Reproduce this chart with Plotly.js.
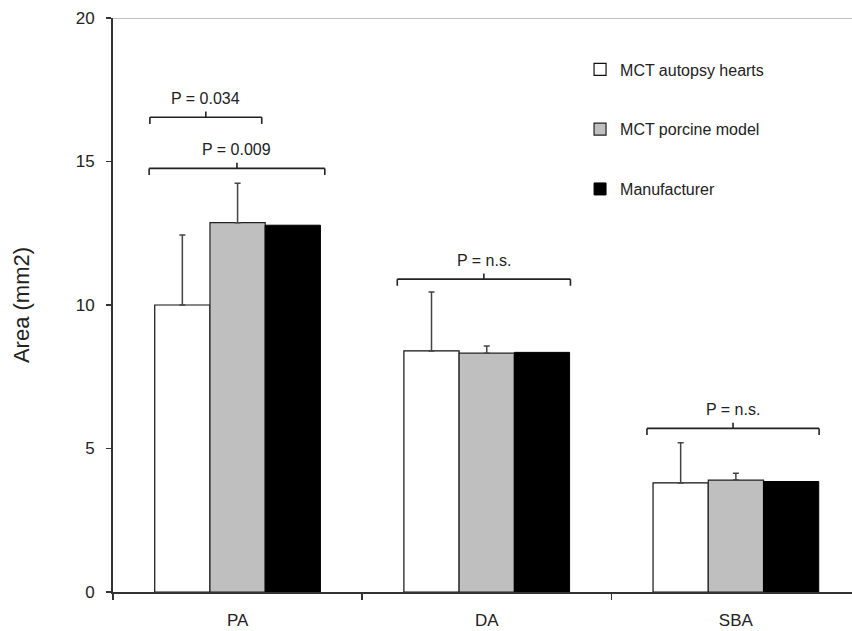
<!DOCTYPE html>
<html>
<head>
<meta charset="utf-8">
<script src="https://cdn.plot.ly/plotly-3.0.1.min.js"></script>
<style>html,body{margin:0;padding:0;background:#fff;}#chart{width:852px;height:631px;}</style>
</head>
<body>
<div id="chart"></div>
<script>
var categories = ["PA", "DA", "SBA"];
var seriesNames = ["MCT autopsy hearts", "MCT porcine model", "Manufacturer"];
var autopsyMean = [10.0, 8.4, 3.8];
var autopsyErr = [2.44, 2.05, 1.4];
var porcineMean = [12.87, 8.32, 3.9];
var porcineErr = [1.37, 0.25, 0.24];
var manufacturerMean = [12.78, 8.35, 3.85];
var yTicks = [0, 5, 10, 15, 20];
// brackets: [x0 index, x1 index, y level, label]
var bracketX0 = [-0.352, -0.355, 0.641, 1.643];
var bracketX1 = [0.097, 0.35, 1.336, 2.334];
var bracketY = [16.54, 14.76, 10.9, 5.70];
var bracketLabels = ["P = 0.034", "P = 0.009", "P = n.s.", "P = n.s."];

var font = "Liberation Sans, Arial, sans-serif";

var traces = [
  {type: "bar", name: seriesNames[0], x: categories, y: autopsyMean, legendgroup: "a",
   marker: {color: "#ffffff", line: {color: "#111", width: 1.2}},
   error_y: {type: "data", symmetric: false, array: autopsyErr, arrayminus: [0,0,0], color: "#444", thickness: 1.5, width: 3}},
  {type: "bar", name: seriesNames[1], x: categories, y: porcineMean, legendgroup: "b",
   marker: {color: "#bfbfbf", line: {color: "#222", width: 1.2}},
   error_y: {type: "data", symmetric: false, array: porcineErr, arrayminus: [0,0,0], color: "#444", thickness: 1.5, width: 3}},
  {type: "bar", name: seriesNames[2], x: categories, y: manufacturerMean, legendgroup: "c",
   marker: {color: "#000000", line: {color: "#000", width: 1}}}
];

var shapes = [
  {type: "line", xref: "paper", yref: "y", x0: 0, x1: 1, y0: 20, y1: 20, line: {color: "#aaaaaa", width: 1.5}}
];
var annotations = [];
var drop = 0.23, rise = 0.2;
for (var i = 0; i < bracketLabels.length; i++) {
  var x0 = bracketX0[i], x1 = bracketX1[i], y = bracketY[i], xm = (x0 + x1) / 2;
  var ln = {color: "#222", width: 1.6};
  shapes.push({type: "line", xref: "x", yref: "y", x0: x0, x1: x1, y0: y, y1: y, line: ln});
  shapes.push({type: "line", xref: "x", yref: "y", x0: x0, x1: x0, y0: y, y1: y - drop, line: ln});
  shapes.push({type: "line", xref: "x", yref: "y", x0: x1, x1: x1, y0: y, y1: y - drop, line: ln});
  shapes.push({type: "line", xref: "x", yref: "y", x0: xm, x1: xm, y0: y, y1: y + rise, line: ln});
  annotations.push({x: xm, y: y, xref: "x", yref: "y", text: bracketLabels[i], showarrow: false,
    yanchor: "bottom", yshift: 8, font: {family: font, size: 16, color: "#222"}});
}

var layout = {
  width: 852, height: 631,
  margin: {l: 113, r: 0, t: 18, b: 39},
  paper_bgcolor: "#fff", plot_bgcolor: "#fff",
  barmode: "group", bargap: 0.335, bargroupgap: 0,
  showlegend: true,
  legend: {x: 0.632, y: 0.94, xanchor: "left", yanchor: "top", bgcolor: "rgba(0,0,0,0)",
    font: {family: font, size: 16, color: "#222"}, tracegroupgap: 36, itemwidth: 30},
  xaxis: {type: "category", range: [-0.5, 2.466], showline: true, linecolor: "#333", linewidth: 2,
    ticks: "outside", tickson: "boundaries", ticklen: 6, tickcolor: "#333", tickwidth: 1.5,
    showgrid: false, zeroline: false, ticklabelstandoff: 12,
    tickfont: {family: font, size: 17, color: "#222"}},
  yaxis: {range: [0, 20], tickvals: yTicks, showline: true, linecolor: "#333", linewidth: 2,
    ticks: "outside", ticklen: 5, tickcolor: "#333", tickwidth: 1.5, showgrid: false, zeroline: false,
    ticklabelstandoff: 8,
    tickfont: {family: font, size: 17, color: "#222"},
    title: {text: "Area (mm2)", font: {family: font, size: 22, color: "#222"}, standoff: 40}},
  shapes: shapes,
  annotations: annotations
};

Plotly.newPlot("chart", traces, layout, {staticPlot: true, displayModeBar: false});
</script>
</body>
</html>
